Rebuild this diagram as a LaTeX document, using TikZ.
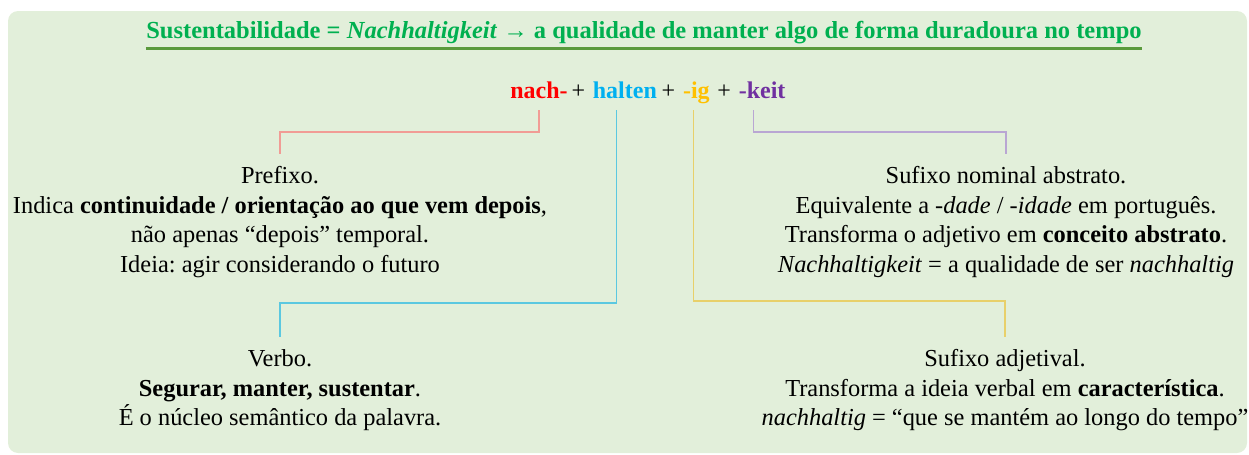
\documentclass[tikz,border=0pt]{standalone}
\usepackage{fontspec}
\setmainfont{Liberation Serif}
\usepackage{tikz}
\usetikzlibrary{positioning,calc}
\definecolor{bgfill}{HTML}{E2EFDA}
\definecolor{titlegreen}{HTML}{00B050}
\definecolor{rulegreen}{HTML}{5A9A3C}
\definecolor{nachred}{HTML}{FF0000}
\definecolor{haltenblue}{HTML}{00B0F0}
\definecolor{igyellow}{HTML}{FFC000}
\definecolor{keitpurple}{HTML}{7030A0}
\definecolor{redline}{HTML}{F19C95}
\definecolor{blueline}{HTML}{5BC8E0}
\definecolor{yellowline}{HTML}{E8D06A}
\definecolor{purpleline}{HTML}{B9A6D3}
\frenchspacing

\begin{document}
\begin{tikzpicture}[x=0.5pt,y=-0.5pt,
  morph/.style={inner sep=0pt,font=\fontsize{12}{14}\selectfont\bfseries},
  plus/.style={inner sep=0pt,font=\fontsize{12}{14}\selectfont},
  desc/.style={inner sep=0pt,align=center,anchor=north,font=\fontsize{12.2}{14.85}\selectfont},
  link/.style={line width=0.6pt}]
\useasboundingbox (0,0) rectangle (1249,455);
\fill[color=bgfill, rounded corners=5pt] (8,11) rectangle (1247,453);
\node (title) at (644,38.5) [anchor=base,inner sep=0pt,text=titlegreen,font=\fontsize{12.25}{14}\selectfont\bfseries]
  {Sustentabilidade = \textit{Nachhaltigkeit} → a qualidade de manter algo de forma duradoura no tempo};
\draw[color=rulegreen, line width=1.1pt] ([yshift=-5pt]title.base west) -- ([yshift=-5pt]title.base east);
\node (nach) at (510,98) [morph,anchor=base west,text=nachred] {nach-};
\node (p1) [plus,base right=1.5pt of nach] {+};
\node (halten) [morph,base right=3.5pt of p1,text=haltenblue] {halten};
\node (p2) [plus,base right=2pt of halten] {+};
\node (ig) [morph,base right=3.5pt of p2,text=igyellow] {-ig};
\node (p3) [plus,base right=3.5pt of ig] {+};
\node (keit) [morph,base right=3.5pt of p3,text=keitpurple] {-keit};
\node (prefixo) at (280,166) [desc] {Prefixo.\\
  Indica \textbf{continuidade / orientação ao que vem depois},\\
  não apenas “depois” temporal.\\
  Ideia: agir considerando o futuro};
\node (verbo) at (280,349) [desc] {Verbo.\\
  \textbf{Segurar, manter, sustentar}.\\
  É o núcleo semântico da palavra.};
\node (nominal) at (1006,166) [desc] {Sufixo nominal abstrato.\\
  Equivalente a \textit{-dade} / \textit{-idade} em português.\\
  Transforma o adjetivo em \textbf{conceito abstrato}.\\
  \textit{Nachhaltigkeit} = a qualidade de ser \textit{nachhaltig}};
\node (adjetival) at (1005,349) [desc] {Sufixo adjetival.\\
  Transforma a ideia verbal em \textbf{característica}.\\
  \textit{nachhaltig} = “que se mantém ao longo do tempo”};
\draw[color=redline, link] ([yshift=-6pt]nach.base) -- ([yshift=-17pt]nach.base) -| ([yshift=6pt]prefixo.north);
\draw[color=blueline, link] ([xshift=-4pt,yshift=-6pt]halten.base) -- ([xshift=-4pt,yshift=-102.5pt]halten.base) -| ([yshift=6pt]verbo.north);
\draw[color=yellowline, link] ([xshift=-1.5pt,yshift=-6pt]ig.base) -- ([xshift=-1.5pt,yshift=-101.5pt]ig.base) -| ([yshift=6pt]adjetival.north);
\draw[color=purpleline, link] ([xshift=-4.5pt,yshift=-6pt]keit.base) -- ([xshift=-4.5pt,yshift=-17pt]keit.base) -| ([yshift=6pt]nominal.north);
\end{tikzpicture}
\end{document}
